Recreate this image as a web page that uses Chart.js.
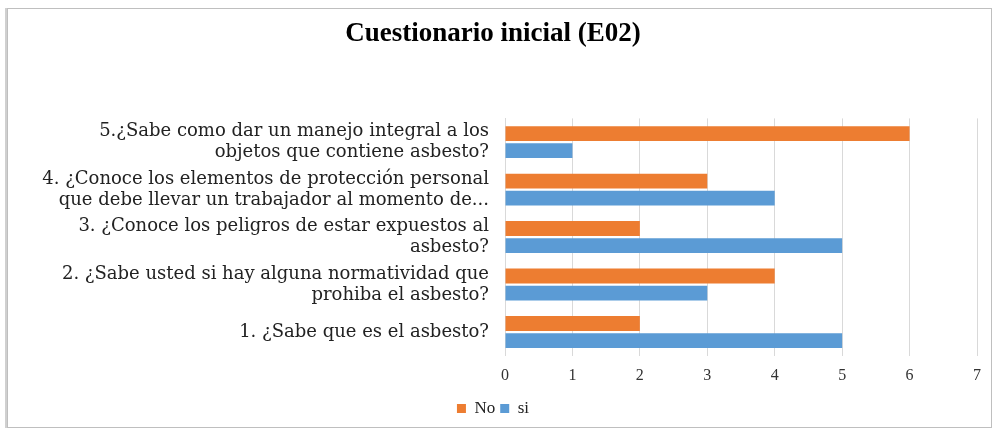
<!DOCTYPE html>
<html>
<head>
<meta charset="utf-8">
<script src="https://cdn.jsdelivr.net/npm/chart.js@4/dist/chart.umd.min.js"></script>
<style>
  body { margin: 0; background: #fff; }
  .frame {
    position: absolute; left: 7px; top: 8px;
    width: 983px; height: 418px;
    border: 1px solid #bfbfbf;
    box-shadow: -2px 0 0 #d0d0d0;
  }
</style>
</head>
<body>
<div class="frame"><canvas id="myChart"></canvas></div>
<script>
const preguntas = [
    ['5.¿Sabe como dar un manejo integral a los', 'objetos que contiene asbesto?'],
    ['4. ¿Conoce los elementos de protección personal', 'que debe llevar un trabajador al momento de...'],
    ['3. ¿Conoce los peligros de estar expuestos al', 'asbesto?'],
    ['2. ¿Sabe usted si hay alguna normatividad que', 'prohiba el asbesto?'],
    '1. ¿Sabe que es el asbesto?'
]
const respuestasNo = [6, 3, 2, 4, 2]
const respuestasSi = [1, 4, 5, 3, 5]
const ticksX = [0, 1, 2, 3, 4, 5, 6, 7]

const ctx = document.getElementById('myChart')
const serif = 'Liberation Serif, Times New Roman, serif'
const wideSerif = 'DejaVu Serif, serif'

const chart = new Chart(ctx, {
    type: 'bar',
    data: {
        labels: preguntas,
        datasets: [{
            label: 'No',
            backgroundColor: '#ED7D31',
            data: respuestasNo
        },
        {
            label: 'si',
            backgroundColor: '#5B9BD5',
            data: respuestasSi
        }]
    },
    options: {
        indexAxis: 'y',
        responsive: true,
        maintainAspectRatio: false,
        animation: false,
        categoryPercentage: 0.72,
        barPercentage: 0.87,
        layout: { padding: { left: 0, right: 13, top: 0, bottom: 0 } },
        plugins: {
            title: {
                display: true,
                text: 'Cuestionario inicial (E02)',
                color: '#000',
                font: { family: serif, size: 27, weight: 'bold' },
                padding: { top: 9, bottom: 68 }
            },
            legend: {
                position: 'bottom',
                align: 'center',
                labels: {
                    color: '#222',
                    font: { family: serif, size: 17 },
                    boxWidth: 9,
                    boxHeight: 9,
                    padding: 5
                }
            },
            tooltip: { enabled: false }
        },
        scales: {
            x: {
                min: ticksX[0],
                max: ticksX[ticksX.length - 1],
                afterBuildTicks: s => { s.ticks = ticksX.map(v => ({ value: v })) },
                grid: { color: '#d9d9d9', drawTicks: false },
                border: { display: false },
                ticks: { color: '#333', font: { family: serif, size: 16 }, padding: 10 }
            },
            y: {
                afterFit: s => { s.width = 497 },
                grid: { display: false },
                border: { color: '#d9d9d9' },
                ticks: { color: '#222', font: { family: wideSerif, size: 18, lineHeight: 1.15 }, padding: 8 }
            }
        }
    }
})
</script>
</body>
</html>
